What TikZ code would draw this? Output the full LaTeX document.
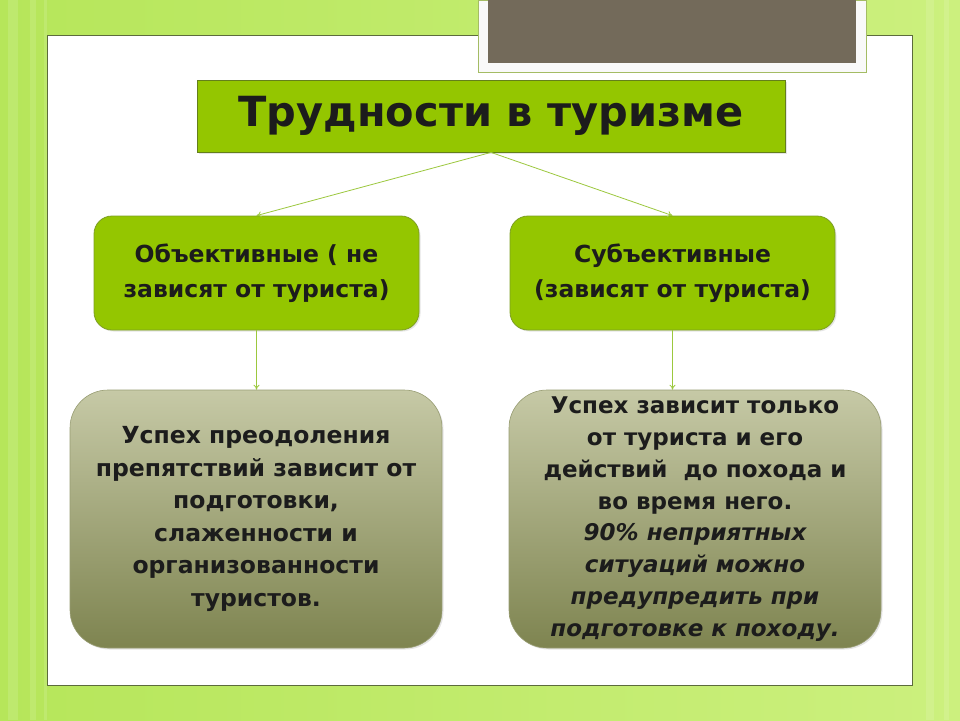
\documentclass[tikz,border=0pt]{standalone}
\usepackage{fontspec}
\setmainfont{DejaVu Sans}
\usepackage{xcolor}
\usetikzlibrary{arrows.meta,shadows}

\definecolor{bgleft}{HTML}{B6E65A}
\definecolor{bgright}{HTML}{CCF07E}
\definecolor{slideedge}{HTML}{5C6B3C}
\definecolor{headgreen}{HTML}{94C600}
\definecolor{headedge}{HTML}{7D9F22}
\definecolor{linkgreen}{HTML}{9CC83E}
\definecolor{boxtop}{HTML}{C6C9A6}
\definecolor{boxbottom}{HTML}{7E8450}
\definecolor{plate}{HTML}{736A5A}
\definecolor{ink}{HTML}{1C1C1C}

\begin{document}
\begin{tikzpicture}[x=1pt, y=-1pt,
    greenbox/.style={draw=headedge, line width=0.8pt, fill=headgreen, text=ink, align=center,
        font=\bfseries\fontsize{23.5}{35}\selectfont,
        drop shadow={opacity=0.2, shadow xshift=1.5pt, shadow yshift=-1.5pt}},
    olivebox/.style={draw=boxbottom!80, line width=0.6pt, top color=boxtop, bottom color=boxbottom,
        rounded corners=38pt, text=ink, align=center, minimum width=372pt, minimum height=258pt,
        drop shadow={opacity=0.2, shadow xshift=1.5pt, shadow yshift=-1.5pt}},
    link/.style={draw=linkgreen, line width=0.8pt, -{To[length=5pt,width=6pt]}}]
    \useasboundingbox (0,0) rectangle (960,720);

    % Background
    \shade[left color=bgleft, right color=bgright] (0,0) rectangle (960,720);
    \foreach \sx/\sw in {8/10, 30/6, 44/3, 926/8, 944/5}
        \fill[white, opacity=0.12] (\sx,0) rectangle ++(\sw,720);

    % Slide
    \node[draw=slideedge, line width=1pt, fill=white, minimum width=865pt, minimum height=650pt,
        inner sep=0pt] (slide) at (479.5,360) {};
    \node[draw=headedge!70, line width=1pt, fill=white!95!gray, minimum width=388pt, minimum height=72pt,
        inner sep=0pt] (frame) at (672,36) {};
    \node[fill=plate, minimum width=368pt, minimum height=63pt, inner sep=0pt] (plate) at (672,31.5) {};

    % Title
    \node[greenbox, draw=headedge!80!black, minimum width=588pt, minimum height=72pt,
        font=\bfseries\fontsize{41.5}{46}\selectfont] (title) at (491,116) {Трудности в туризме};

    % Kinds of difficulty
    \node[greenbox, rounded corners=18pt, minimum width=325pt, minimum height=114pt] (objective)
        at (256.5,273) {Объективные ( не\\зависят от туриста)};
    \node[greenbox, rounded corners=18pt, minimum width=325pt, minimum height=114pt] (subjective)
        at (672.5,273) {Субъективные\\(зависят от туриста)};

    % Details
    \node[olivebox, font=\bfseries\fontsize{23.5}{32.5}\selectfont] (objdetail) at (256,519)
        {Успех преодоления\\препятствий зависит от\\подготовки,\\слаженности и\\организованности\\туристов.};
    \node[olivebox, font=\bfseries\fontsize{23}{31.8}\selectfont] (subjdetail) at (695,519)
        {Успех зависит только\\от туриста и его\\действий \ до похода и\\во время него.\\
        \itshape 90\% неприятных\\\itshape ситуаций можно\\\itshape предупредить при\\\itshape подготовке к походу.};

    % Connections
    \draw[link] (title.south) -- (objective.north);
    \draw[link] (title.south) -- (subjective.north);
    \draw[link] (objective.south) -- (objdetail.north -| objective.south);
    \draw[link] (subjective.south) -- (subjdetail.north -| subjective.south);
\end{tikzpicture}
\end{document}
